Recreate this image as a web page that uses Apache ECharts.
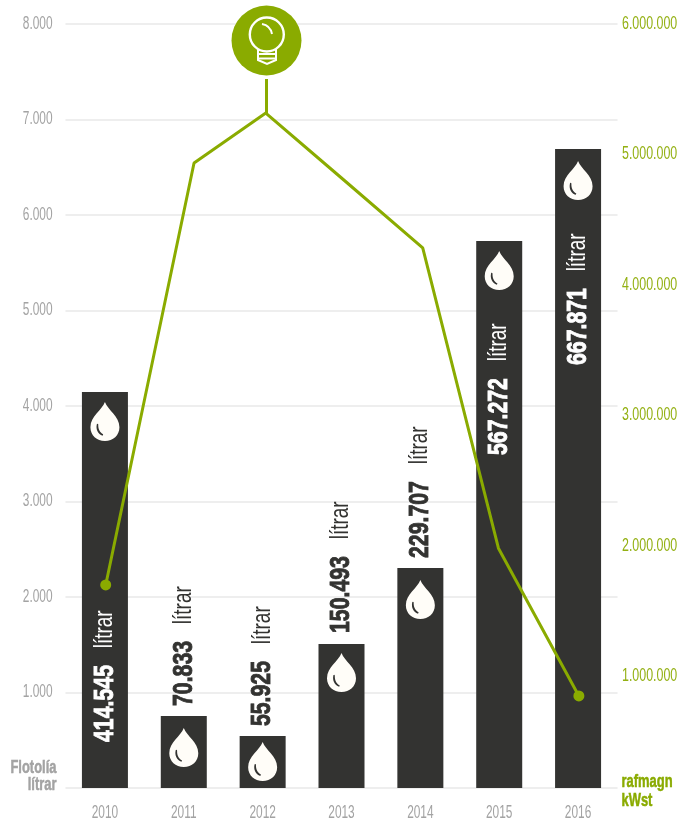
<!DOCTYPE html>
<html><head><meta charset="utf-8">
<style>html,body{margin:0;padding:0;background:#fff}#c{width:681px;height:821px}</style>
<script src="https://cdn.jsdelivr.net/npm/echarts@6/dist/echarts.min.js"></script>
</head><body><div id="c"></div>
<script>
const years = ['2010','2011','2012','2013','2014','2015','2016'];
const barValues = [4147, 754, 544, 1508, 2304, 5728, 6691];
const litreLabels = ['414.545','70.833','55.925','150.493','229.707','567.272','667.871'];
const unitLabel = 'lítrar';
const lineYears = [2010.01, 2011.13, 2012.04, 2013.0, 2014.03, 2014.99, 2016.01];
const lineValues = [1698000, 4934000, 5317000, 4819000, 4283000, 1980000, 847000];

const FONT = '"Liberation Sans",sans-serif';
const GREEN = '#8aab00', DARK = '#333331', GRAY = '#a3a3a3';
const labelTop = [350, -10, -10, -11, -10, 214, 216];
const dropGap = [10, 12, 6, 9, 12, 10, 12];
const dropPath = 'path://M50 0C60 28 100 50 100 88C100 116 78 136 50 136C22 136 0 116 0 88C0 50 40 28 50 0Z M22 78C18 96 26 112 42 118L44 113C32 107 26 94 27 79C27 76 23 75 22 78Z';

const chart = echarts.init(document.getElementById('c'), null, {renderer:'canvas'});
chart.setOption({
  animation:false,
  grid:[
    {left:65.5,right:63.5,top:24,height:764,outerBoundsMode:'none'},
    {left:65.5,right:63.5,top:24,height:782.4,outerBoundsMode:'none'}
  ],
  xAxis:[
    {type:'category',gridIndex:0,data:years,
     axisLine:{show:false},axisTick:{show:false},
     axisLabel:{color:GRAY,fontFamily:FONT,fontSize:18,margin:16}},
    {type:'value',gridIndex:1,min:2009.5,max:2016.5,show:false}
  ],
  yAxis:[
    {type:'value',gridIndex:0,min:0,max:8000,interval:1000,
     name:'Flotolía\nlítrar',nameLocation:'start',nameGap:-11,nameRotate:0,
     nameTextStyle:{color:GRAY,fontFamily:FONT,fontSize:18,fontWeight:'bold',align:'right',verticalAlign:'middle',lineHeight:17,padding:[0,12.5,0,0],textBorderColor:GRAY,textBorderWidth:0.5},
     axisLine:{show:false},axisTick:{show:false},
     splitLine:{lineStyle:{color:'#eeeeee',width:2}},
     axisLabel:{color:GRAY,fontFamily:FONT,fontSize:18,margin:13,
       formatter:v=>v===0?'':String(v).replace(/\B(?=(\d{3})+$)/g,'.')}},
    {type:'value',gridIndex:1,position:'right',min:0,max:6000000,interval:1000000,
     name:'rafmagn\nkWst',nameLocation:'start',nameGap:-15,nameRotate:0,
     nameTextStyle:{color:GREEN,fontFamily:FONT,fontSize:18,fontWeight:'bold',align:'left',verticalAlign:'middle',lineHeight:19,padding:[0,0,0,5.5],textBorderColor:GREEN,textBorderWidth:0.5},
     axisLine:{show:false},axisTick:{show:false},splitLine:{show:false},
     axisLabel:{color:'#93b012',fontFamily:FONT,fontSize:18,margin:4.5,
       formatter:v=>v===0?'':String(v).replace(/\B(?=(\d{3})+$)/g,'.')}}
  ],
  series:[
    {type:'bar',xAxisIndex:0,yAxisIndex:0,barWidth:46,z:2,
     itemStyle:{color:DARK},
     data:barValues.map((v,i)=>{
       const inside = labelTop[i]>0;
       const c = inside?'#ffffff':DARK;
       return {value:v,label:{show:true,position:[23,labelTop[i]],rotate:90,align:'left',verticalAlign:'middle',
         formatter:'{n|'+litreLabels[i]+'}{g| }{u|'+unitLabel+'}',
         rich:{n:{fontFamily:FONT,fontWeight:'bold',fontSize:28,color:c,textBorderColor:c,textBorderWidth:0.9},
               g:{fontSize:14,width:22,color:c},
               u:{fontFamily:FONT,fontSize:25,color:c}}}};
     })},
    {type:'pictorialBar',xAxisIndex:0,yAxisIndex:0,z:3,symbol:dropPath,symbolSize:[29,39],
     symbolPosition:'end',barGap:'-100%',barWidth:46,
     itemStyle:{color:'#fffdf8'},
     data:barValues.map((v,i)=>({value:v,symbolOffset:[0,dropGap[i]]}))},
    {type:'line',xAxisIndex:1,yAxisIndex:1,z:5,smooth:false,
     lineStyle:{color:GREEN,width:3},itemStyle:{color:GREEN},
     symbolSize:11,
     data:lineYears.map((x,i)=>({value:[x,lineValues[i]],symbol:(i===0||i===lineYears.length-1)?'circle':'none'}))}
  ],
  graphic:[
    {type:'line',shape:{x1:266.5,y1:79,x2:266.5,y2:113},style:{stroke:GREEN,lineWidth:3},z:6},
    {type:'circle',shape:{cx:266.5,cy:40.5,r:35},style:{fill:GREEN},z:6},
    {type:'circle',shape:{cx:266.8,cy:34.5,r:17},style:{fill:'none',stroke:'#fff',lineWidth:2.4},z:7},
    {type:'polyline',shape:{points:[[258,49],[258,60],[267,64],[276,60],[276,49]]},style:{fill:'none',stroke:'#fff',lineWidth:2},z:7},
    {type:'line',shape:{x1:258,y1:54,x2:276,y2:54},style:{stroke:'#fff',lineWidth:2},z:7},
    {type:'line',shape:{x1:258,y1:58.5,x2:276,y2:58.5},style:{stroke:'#fff',lineWidth:2},z:7},
    {type:'bezierCurve',shape:{x1:262,y1:24,cpx1:268,cpy1:25,cpx2:271,cpy2:29,x2:272,y2:34},style:{fill:'none',stroke:'#fff',lineWidth:2},z:7}
  ]
});
// No condensed font is installed: narrow the real text elements horizontally.
const zr = chart.getZr();
const hosts = new Set();
zr.storage.getDisplayList(true).forEach(el=>{ if(el.type==='tspan'&&el.parent) hosts.add(el.parent); });
hosts.forEach(t=>{
  const s = t.style||{};
  let k = 0.66;
  if (s.rich) k = 0.76;
  else if (/bold/.test(s.font||'')||s.fontWeight==='bold') k = 0.72;
  else if (String(s.text||'').length>6) k = 0.69;
  t.scaleX = k;
  t.markRedraw();
});
zr.refreshImmediately();
</script></body></html>
